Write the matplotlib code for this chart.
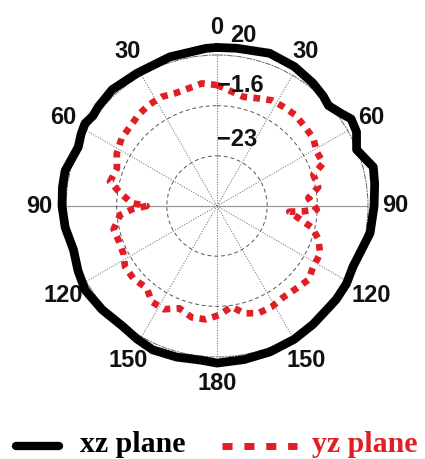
import numpy as np
import matplotlib
matplotlib.use("Agg")
import matplotlib.pyplot as plt
from matplotlib.lines import Line2D

# ---------------- data (angles in degrees, clockwise from top; values in dB) ----------
xz_theta = [0, 7, 19, 29, 38, 44, 48, 53, 57, 62, 68, 72, 76, 82, 90, 100, 107, 114, 121,
            128, 133, 141, 150, 160, 170, 180, 186, 195, 204, 211, 218, 228, 237.5, 245,
            253, 262, 270, 277, 283, 293, 298, 302, 306, 310, 318, 329, 342.5, 356, 360]
xz_gain = [23.2, 23.4, 24.5, 23.6, 22.1, 20.8, 19.6, 21.5, 23.8, 23.0, 19.8, 21.8, 24.3,
           23.5, 22.6, 21.9, 20.0, 19.1, 20.0, 20.2, 20.0, 20.6, 21.3, 21.8, 22.1, 22.6,
           21.7, 22.3, 22.8, 21.8, 20.8, 21.6, 22.3, 21.0, 19.6, 21.0, 21.7, 22.0, 22.1,
           19.9, 21.2, 22.0, 21.0, 21.6, 22.4, 21.7, 22.3, 23.0, 23.2]

yz_theta = [0, 5.6, 13.5, 20.2, 27.5, 33.5, 40.6, 48, 55, 61.4, 68, 72, 79.5, 85, 92, 93.5,
            94.5, 102.7, 108, 115, 122, 129, 136.9, 144, 151.5, 158.9, 165.9, 171.7, 178.8,
            185.7, 192.8, 200.2, 207.2, 214.3, 220.5, 229, 236.6, 243, 251, 257.3, 264.7,
            268, 270, 272, 277.8, 282.8, 290.6, 297.7, 305.4, 312.4, 319.2, 325.8, 333.2,
            339.6, 346.3, 352.9, 360]
yz_gain = [7.2, 5.3, 3.5, 4.6, 6.4, 6.5, 6.8, 6.1, 5.8, 4.0, 4.5, -1.2, -0.5, -5.3, -1.8,
           -7.5, -13.5, -3.0, 1.1, 4.1, 4.1, 5.7, 4.3, 3.7, 4.5, 4.6, 2.8, -1.0, 2.1, 4.2,
           4.3, 2.1, 5.1, 5.0, 1.7, 2.8, 2.6, 0.4, 0.1, 0.8, -2.9, -8.5, -14.4, -8.0, -2.6,
           2.4, 1.2, 3.9, 5.5, 5.8, 6.9, 7.6, 7.8, 6.9, 7.2, 8.3, 7.2]

angle_ticks = [0, 30, 60, 90, 120, 150, 180, 210, 240, 270, 300, 330]
angle_labels = ['0', '30', '60', '90', '120', '150', '180', '150', '120', '90', '60', '30']
r_ticks = [-23, -1.6, 20]
r_labels = ['\u221223', '\u22121.6', '20']
series_names = ['xz plane', 'yz plane']

# ---------------- layout ----------------
W, H = 425, 459
RMIN, RMAX = -44.4, 20.0
CX, CY, RPX = 217, 206, 151
RED = '#e01e25'

fig = plt.figure(figsize=(W / 100, H / 100), dpi=100)
ax = fig.add_axes([(CX - RPX) / W, (H - CY - RPX) / H, 2 * RPX / W, 2 * RPX / H],
                  projection='polar')
ax.set_theta_zero_location('N')
ax.set_theta_direction(-1)
ax.set_ylim(RMIN, RMAX)


def px2r(px):
    return RMIN + px / RPX * (RMAX - RMIN)


# grid
ax.set_thetagrids(angle_ticks, labels=[''] * len(angle_ticks))
ax.set_rgrids(r_ticks[:-1], labels=[''] * (len(r_ticks) - 1))
ax.xaxis.grid(True, color='#777777', linestyle=(0, (1.2, 1.5)), linewidth=0.7)
ax.yaxis.grid(True, color='#555555', linestyle=(0, (4, 3)), linewidth=0.7)
for i, gl in enumerate(ax.xaxis.get_gridlines()):
    if angle_ticks[i] in (90, 270):
        gl.set_linestyle('-')
        gl.set_color('#999999')
        gl.set_linewidth(0.9)
ax.spines['polar'].set_linestyle((0, (5, 2, 1, 2)))
ax.spines['polar'].set_linewidth(0.7)
ax.spines['polar'].set_color('#666666')
ax.tick_params(length=0)

# curves
ax.plot(np.deg2rad(xz_theta), xz_gain, color='black', lw=6.3, solid_joinstyle='round',
        solid_capstyle='round', clip_on=False, zorder=5)
ax.plot(np.deg2rad(yz_theta), yz_gain, color=RED, lw=4.8, linestyle=(0, (1.0, 0.95)),
        clip_on=False, zorder=6)

# angle labels
font = dict(family='Liberation Sans', fontsize=17, weight='bold', color='#111111')
for a, lab in zip(angle_ticks, angle_labels):
    ax.text(np.deg2rad(a), px2r(178), lab, ha='center', va='center', **font)

# radial labels
r_label_pos = [(16.6, 69), (10.8, 123), (8.7, 172)]
for (a, p), lab in zip(r_label_pos, r_labels):
    ax.text(np.deg2rad(a), px2r(p), lab, ha='center', va='center', zorder=7, **font)

# legend
def fx(x):
    return x / W


def fy(y):
    return 1 - y / H


ly = 445.5
base = 452
fig.add_artist(Line2D([fx(16), fx(59)], [fy(ly), fy(ly)], color='black', lw=6,
                      solid_capstyle='round', transform=fig.transFigure))
fig.text(fx(80), fy(base), series_names[0], ha='left', va='baseline',
         family='Liberation Serif', weight='bold', fontsize=21.5, color='black')
fig.add_artist(Line2D([fx(222), fx(297)], [fy(ly), fy(ly)], color=RED, lw=5,
                      linestyle=(0, (1.45, 1.7)), transform=fig.transFigure))
fig.text(fx(312), fy(base), series_names[1], ha='left', va='baseline',
         family='Liberation Serif', weight='bold', fontsize=21.5, color=RED)

fig.savefig('out.png', dpi=100)
